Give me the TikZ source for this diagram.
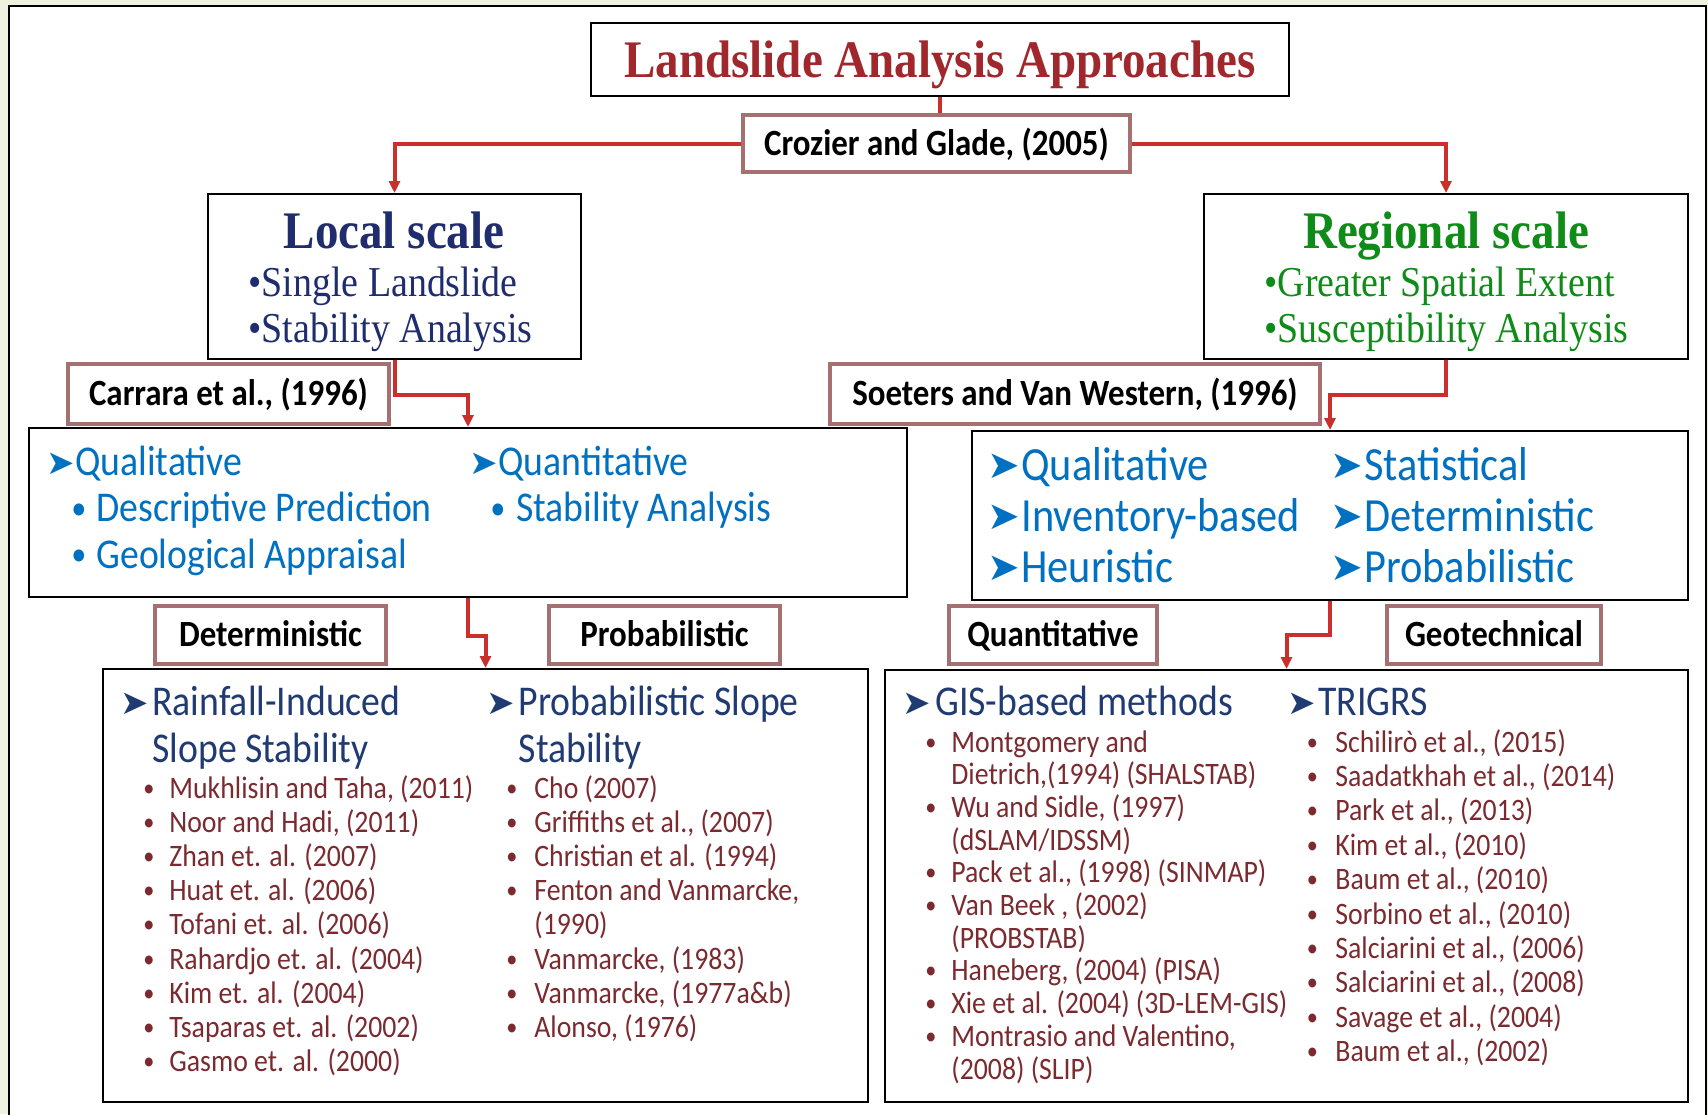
\documentclass[tikz,border=0pt]{standalone}
\usepackage{fontspec}
\usepackage{tikz}
\usetikzlibrary{arrows.meta,positioning}
\newfontfamily\serifface{Liberation Serif}[FakeStretch=0.89]
\newfontfamily\bodyface{Carlito}[FakeStretch=0.89]
\newfontfamily\dingface{DejaVu Sans}
\definecolor{cream}{HTML}{EEF2DF}
\definecolor{titlered}{HTML}{A0282D}
\definecolor{navy}{HTML}{1F2D6E}
\definecolor{leaf}{HTML}{0E8C17}
\definecolor{sky}{HTML}{0070C0}
\definecolor{ink}{HTML}{203A72}
\definecolor{rust}{HTML}{7B2B2F}
\definecolor{rosy}{HTML}{A5706F}
\definecolor{wirered}{HTML}{C9302C}
\newcommand{\fsz}[1]{\fontsize{#1pt}{#1pt}\selectfont}
\tikzset{
  bigbox/.style={rectangle, draw=black, line width=1pt, fill=white, inner sep=0pt},
  refbox/.style={rectangle, draw=rosy, line width=2.2pt, fill=white, inner sep=0pt,
                 font=\bodyface\bfseries\fsz{18.5}, text height=11.9pt, text depth=0pt},
  heading/.style={inner sep=0pt, font=\serifface\bfseries\fsz{26.4}, text height=17.5pt, text depth=0pt},
  feat/.style={inner sep=0pt, anchor=west, font=\serifface\fsz{21.3}, text height=14.1pt, text depth=0pt},
  kind/.style={inner sep=0pt, anchor=west, text=sky, font=\bodyface\fsz{21.2}, text height=13.6pt, text depth=0pt},
  kinddot/.style={kind, font=\bodyface\fsz{17}, text height=11pt},
  bigkind/.style={kind, font=\bodyface\fsz{23.8}, text height=15.2pt},
  method/.style={kind, text=ink},
  cite/.style={inner sep=0pt, anchor=west, text=rust, font=\bodyface\fsz{15.6}, text height=10pt, text depth=0pt},
  citedot/.style={cite, font=\bodyface\fsz{12.5}, text height=8pt},
  tipmark/.style={inner sep=0pt, anchor=west, font=\dingface\fsz{17}, text height=12pt, text depth=0pt},
  bigtip/.style={tipmark, font=\dingface\fsz{19.5}, text height=13.8pt},
  wire/.style={draw=wirered, line width=2pt},
  link/.style={wire, -{Triangle[length=6pt, width=5.5pt]}}
}

\begin{document}
\begin{tikzpicture}[x=0.5pt, y=-0.5pt]
 \useasboundingbox (0,0) rectangle (1708,1114);
 \fill[cream] (0,0) rectangle (1708,1114);
 \draw[line width=1.1pt, fill=white] (9,6) rectangle (1706,1140);

 % root
 \node[bigbox, minimum width=349pt, minimum height=36.5pt, text=titlered,
       font=\serifface\bfseries\fsz{26.4}, text height=17.5pt, text depth=0pt] (title) at (940,59.5) {Landslide Analysis Approaches};
 \node[refbox, minimum width=193.5pt, minimum height=28.5pt] (cg) at (936.5,143.5) {Crozier and Glade, (2005)};

 % scales
 \node[bigbox, minimum width=186.5pt, minimum height=82.5pt] (local) at (394.5,276.5) {};
 \node[heading, text=navy] (local-h) at (394,231) {Local scale};
 \node[feat, text=navy] (local-a) at (248,282) {•Single Landslide};
 \node[feat, text=navy] (local-b) at (248,328) {•Stability Analysis};

 \node[bigbox, minimum width=242pt, minimum height=82.5pt] (regional) at (1446,276.5) {};
 \node[heading, text=leaf] (regional-h) at (1446,231) {Regional scale};
 \node[feat, text=leaf] (regional-a) at (1264,282) {•Greater Spatial Extent};
 \node[feat, text=leaf] (regional-b) at (1264,328) {•Susceptibility Analysis};

 \node[refbox, minimum width=160.5pt, minimum height=30pt] (carrara) at (228.5,394) {Carrara et al., (1996)};
 \node[refbox, minimum width=245pt, minimum height=30pt] (soeters) at (1075,394) {Soeters and Van Western, (1996)};

 % approaches, local
 \node[bigbox, minimum width=439pt, minimum height=84.5pt] (lq) at (468,512.5) {};
 \node[tipmark, text=sky] (lq-t1) at (46,462) {➤};
 \node[kind] (lq-1) at (75,462) {Qualitative};
 \node[kinddot] (lq-d2) at (71,508) {•};
 \node[kind] (lq-2) at (96,508) {Descriptive Prediction};
 \node[kinddot] (lq-d3) at (71,554.5) {•};
 \node[kind] (lq-3) at (96,554.5) {Geological Appraisal};
 \node[tipmark, text=sky] (lq-t4) at (468.6,462) {➤};
 \node[kind] (lq-4) at (498,462) {Quantitative};
 \node[kinddot] (lq-d5) at (490,508) {•};
 \node[kind] (lq-5) at (516,508) {Stability Analysis};

 % approaches, regional
 \node[bigbox, minimum width=358pt, minimum height=84.5pt] (rq) at (1330,515.5) {};
 \foreach \x/\t/\y [count=\i] in {1021/Qualitative/465, 1021/Inventory-based/516, 1021/Heuristic/567,
                                  1364/Statistical/465, 1364/Deterministic/516, 1364/Probabilistic/567} {
   \node[bigtip, text=sky] (rq-t\i) at ({\x-34},\y) {➤};
   \node[bigkind] (rq-\i) at (\x,\y) {\t};
 }

 \node[refbox, minimum width=115.5pt, minimum height=29pt] (det) at (270.5,635) {Deterministic};
 \node[refbox, minimum width=115.5pt, minimum height=29pt] (prob) at (664.5,635) {Probabilistic};
 \node[refbox, minimum width=104pt, minimum height=29pt] (quant) at (1053,635) {Quantitative};
 \node[refbox, minimum width=107pt, minimum height=29pt] (geo) at (1494,635) {Geotechnical};

 % methods, local
 \node[bigbox, minimum width=382.5pt, minimum height=216.5pt] (bl) at (485.5,885.5) {};
 \node[tipmark, text=ink] (bl-t1) at (120,702) {➤};
 \node[method] (bl-h1) at (152,702) {Rainfall-Induced};
 \node[method] (bl-h1b) at (152,749) {Slope Stability};
 \node[tipmark, text=ink] (bl-t2) at (486,702) {➤};
 \node[method] (bl-h2) at (518.5,702) {Probabilistic Slope};
 \node[method] (bl-h2b) at (518.5,749) {Stability};
 \foreach \t [count=\i from 0] in {{Mukhlisin and Taha, (2011)}, {Noor and Hadi, (2011)}, {Zhan et. al. (2007)},
     {Huat et. al. (2006)}, {Tofani et. al. (2006)}, {Rahardjo et. al. (2004)}, {Kim et. al. (2004)},
     {Tsaparas et. al. (2002)}, {Gasmo et. al. (2000)}} {
   \node[citedot] (bl-d\i) at (143,{788+34.2*\i}) {•};
   \node[cite] (bl-a\i) at (169,{788+34.2*\i}) {\t};
 }
 \foreach \b/\t [count=\i from 0] in {1/{Cho (2007)}, 1/{Griffiths et al., (2007)}, 1/{Christian et al. (1994)},
     1/{Fenton and Vanmarcke,}, 0/{(1990)}, 1/{Vanmarcke, (1983)}, 1/{Vanmarcke, (1977a\&b)}, 1/{Alonso, (1976)}} {
   \ifnum\b=1 \node[citedot] (bl-e\i) at (506,{788+34.2*\i}) {•};\fi
   \node[cite] (bl-b\i) at (534,{788+34.2*\i}) {\t};
 }

 % methods, regional
 \node[bigbox, minimum width=401.5pt, minimum height=216pt] (br) at (1286.5,886) {};
 \node[tipmark, text=ink] (br-t1) at (902,702) {➤};
 \node[method] (br-h1) at (935,702) {GIS-based methods};
 \node[tipmark, text=ink] (br-t2) at (1287,702) {➤};
 \node[method] (br-h2) at (1318,702) {TRIGRS};
 \foreach \b/\t [count=\i from 0] in {1/{Montgomery and}, 0/{Dietrich,(1994) (SHALSTAB)}, 1/{Wu and Sidle, (1997)},
     0/{(dSLAM/IDSSM)}, 1/{Pack et al., (1998) (SINMAP)}, 1/{Van Beek , (2002)}, 0/{(PROBSTAB)},
     1/{Haneberg, (2004) (PISA)}, 1/{Xie et al. (2004) (3D-LEM-GIS)}, 1/{Montrasio and Valentino,}, 0/{(2008) (SLIP)}} {
   \ifnum\b=1 \node[citedot] (br-d\i) at (925,{742+32.7*\i}) {•};\fi
   \node[cite] (br-a\i) at (951,{742+32.7*\i}) {\t};
 }
 \foreach \t [count=\i from 0] in {{Schilirò et al., (2015)}, {Saadatkhah et al., (2014)}, {Park et al., (2013)},
     {Kim et al., (2010)}, {Baum et al., (2010)}, {Sorbino et al., (2010)}, {Salciarini et al., (2006)},
     {Salciarini et al., (2008)}, {Savage et al., (2004)}, {Baum et al., (2002)}} {
   \node[citedot] (br-e\i) at (1306.5,{742+34.4*\i}) {•};
   \node[cite] (br-b\i) at (1335,{742+34.4*\i}) {\t};
 }

 % connectors
 \draw[wire] (title.south) -- (title.south |- cg.north);
 \draw[link] (cg.west) -| (local.north);
 \draw[link] (cg.east) -| (regional.north);
 \draw[link] (local.south) -- ++(0,35) -| (lq.north);
 \draw[link] (regional.south) -- ++(0,35) -| (rq.north);
 \draw[link] (lq.south) -- ++(0,38) -| (bl.north);
 \draw[link] (rq.south) -- ++(0,34) -| (br.north);
\end{tikzpicture}
\end{document}
